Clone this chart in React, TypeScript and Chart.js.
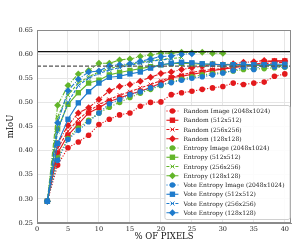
import React, { useEffect, useRef } from "react";
import { Chart, registerables } from "chart.js";

Chart.register(...registerables);

// ---------- data ----------
const pixelPct = [1.67, 3.33, 5, 6.67, 8.33, 10, 11.67, 13.33, 15, 16.67, 18.33, 20, 21.67, 23.33, 25, 26.67, 28.33, 30, 31.67, 33.33, 35, 36.67, 38.33, 40];
const xTicks = [0, 5, 10, 15, 20, 25, 30, 35, 40];
const yTicks = [0.25, 0.3, 0.35, 0.4, 0.45, 0.5, 0.55, 0.6, 0.65];
const fullyRef = 0.605;
const dashedRef = 0.575;

const randomImage = [0.295, 0.370, 0.406, 0.418, 0.432, 0.454, 0.465, 0.474, 0.478, 0.492, 0.500, 0.501, 0.516, 0.520, 0.523, 0.527, 0.530, 0.533, 0.540, 0.537, 0.540, 0.542, 0.554, 0.559];
const random512 = [0.295, 0.395, 0.432, 0.455, 0.478, 0.489, 0.502, 0.509, 0.517, 0.523, 0.531, 0.540, 0.551, 0.554, 0.558, 0.562, 0.566, 0.569, 0.572, 0.575, 0.578, 0.583, 0.586, 0.586];
const random256 = [0.295, 0.405, 0.440, 0.465, 0.482, 0.495, 0.506, 0.515, 0.522, 0.530, 0.537, 0.545, 0.552, 0.557, 0.562, 0.566, 0.568, 0.570, 0.574, 0.577, 0.579, 0.580, 0.582, 0.583];
const random128 = [0.295, 0.415, 0.452, 0.478, 0.489, 0.506, 0.524, 0.533, 0.537, 0.544, 0.552, 0.560, 0.563, 0.568, 0.572, 0.575, 0.579, 0.578, 0.580, 0.583, 0.584, 0.587, 0.585, 0.586];
const entropyImage = [0.295, 0.385, 0.425, 0.447, 0.463, 0.478, 0.490, 0.500, 0.510, 0.519, 0.527, 0.535, 0.542, 0.548, 0.553, 0.557, 0.560, 0.562, 0.565, 0.568, 0.569, 0.570, 0.572, 0.573];
const entropy512 = [0.295, 0.445, 0.496, 0.520, 0.540, 0.546, 0.557, 0.562, 0.566, 0.570, 0.574, 0.578, 0.580, 0.581, 0.580, 0.579, 0.579, 0.578, 0.578, 0.577, 0.577, 0.576, 0.577, 0.576];
const entropy256 = [0.295, 0.470, 0.515, 0.540, 0.553, 0.563, 0.570, 0.575, 0.579, 0.583, 0.586, 0.589, 0.591, 0.593];
const entropy128 = [0.295, 0.494, 0.535, 0.559, 0.566, 0.581, 0.581, 0.588, 0.590, 0.595, 0.598, 0.602, 0.602, 0.604, 0.603, 0.604, 0.602, 0.602];
const voteImage = [0.295, 0.380, 0.423, 0.442, 0.460, 0.478, 0.497, 0.506, 0.516, 0.522, 0.530, 0.536, 0.541, 0.546, 0.550, 0.553, 0.557, 0.561, 0.566, 0.573, 0.568, 0.578, 0.574, 0.574];
const vote512 = [0.295, 0.415, 0.465, 0.499, 0.522, 0.540, 0.552, 0.554, 0.559, 0.563, 0.571, 0.578, 0.581, 0.583, 0.582, 0.580, 0.579, 0.578, 0.578, 0.579, 0.578, 0.578, 0.579, 0.579];
const vote256 = [0.295, 0.440, 0.500, 0.535, 0.550, 0.560, 0.567, 0.572, 0.577, 0.581, 0.585, 0.588, 0.590];
const vote128 = [0.295, 0.458, 0.524, 0.548, 0.563, 0.565, 0.576, 0.578, 0.580, 0.585, 0.590, 0.595, 0.596, 0.600, 0.601];

const seriesLabels = [
  "Random Image (2048x1024)", "Random (512x512)", "Random (256x256)", "Random (128x128)",
  "Entropy Image (2048x1024)", "Entropy (512x512)", "Entropy (256x256)", "Entropy (128x128)",
  "Vote Entropy Image (2048x1024)", "Vote Entropy (512x512)", "Vote Entropy (256x256)", "Vote Entropy (128x128)",
];
const seriesValues = [randomImage, random512, random256, random128, entropyImage, entropy512, entropy256, entropy128, voteImage, vote512, vote256, vote128];

// ---------- styles ----------
const RED = "#e3191c";
const GREEN = "#63b52a";
const BLUE = "#1e7bcc";
const groupColors = [RED, GREEN, BLUE];
const variantMarkers = ["circle", "rect", "crossRot", "rectRot"];
const variantRadius = [2.8, 3.8, 2.8, 3.5];
const variantDash = [[1.2, 1.6], [], [3, 1.5], [5, 1.5, 1, 1.5]];
const FONT = "'DejaVu Serif', serif";

function drawMarker(ctx: CanvasRenderingContext2D, type: string, x: number, y: number, r: number, color: string) {
  ctx.save();
  ctx.fillStyle = color;
  ctx.strokeStyle = color;
  ctx.lineWidth = 1;
  ctx.setLineDash([]);
  ctx.beginPath();
  if (type === "circle") {
    ctx.arc(x, y, r, 0, Math.PI * 2);
    ctx.fill();
  } else if (type === "rect") {
    const s = r * Math.SQRT1_2;
    ctx.rect(x - s, y - s, 2 * s, 2 * s);
    ctx.fill();
  } else if (type === "rectRot") {
    ctx.moveTo(x, y - r);
    ctx.lineTo(x + r, y);
    ctx.lineTo(x, y + r);
    ctx.lineTo(x - r, y);
    ctx.closePath();
    ctx.fill();
  } else {
    const s = r * Math.SQRT1_2;
    ctx.moveTo(x - s, y - s);
    ctx.lineTo(x + s, y + s);
    ctx.moveTo(x + s, y - s);
    ctx.lineTo(x - s, y + s);
    ctx.stroke();
  }
  ctx.restore();
}

const framePlugin = {
  id: "frame",
  afterDatasetsDraw(chart: any) {
    const { ctx, chartArea: a } = chart;
    ctx.save();
    ctx.strokeStyle = "#8a8a8a";
    ctx.lineWidth = 1;
    ctx.strokeRect(a.left + 0.5, a.top + 0.5, a.right - a.left - 1, a.bottom - a.top - 1);
    ctx.restore();
  },
};

const legendPlugin = {
  id: "insideLegend",
  afterDraw(chart: any) {
    const { ctx, chartArea: a } = chart;
    ctx.save();
    ctx.font = `6px ${FONT}`;
    let maxW = 0;
    seriesLabels.forEach((l) => (maxW = Math.max(maxW, ctx.measureText(l).width)));
    const rowH = 9.25;
    const w = 19 + maxW + 5;
    const h = rowH * seriesLabels.length + 3;
    const right = a.right - 1.5;
    const bottom = a.bottom - 4;
    const left = right - w;
    const top = bottom - h;
    ctx.fillStyle = "rgba(255,255,255,0.85)";
    ctx.strokeStyle = "#d0d0d0";
    ctx.lineWidth = 1;
    ctx.beginPath();
    (ctx as any).roundRect ? (ctx as any).roundRect(left + 0.5, top + 0.5, w, h, 2) : ctx.rect(left + 0.5, top + 0.5, w, h);
    ctx.fill();
    ctx.stroke();
    seriesLabels.forEach((label, i) => {
      const g = Math.floor(i / 4);
      const v = i % 4;
      const color = groupColors[g];
      const cy = top + 6 + rowH * i;
      ctx.save();
      ctx.strokeStyle = color;
      ctx.lineWidth = 1.1;
      ctx.setLineDash(variantDash[v]);
      ctx.beginPath();
      ctx.moveTo(left + 2, cy);
      ctx.lineTo(left + 14, cy);
      ctx.stroke();
      ctx.restore();
      drawMarker(ctx, variantMarkers[v], left + 8, cy, variantRadius[v], color);
      ctx.fillStyle = "#222";
      ctx.textBaseline = "middle";
      ctx.textAlign = "left";
      ctx.fillText(label, left + 19, cy + 0.5);
    });
    ctx.restore();
  },
};

export default function App() {
  const canvasRef = useRef<HTMLCanvasElement | null>(null);

  useEffect(() => {
    document.body.style.margin = "0";
    const canvas = canvasRef.current;
    if (!canvas) return;

    const datasets: any[] = seriesValues.map((vals, i) => {
      const g = Math.floor(i / 4);
      const v = i % 4;
      const color = groupColors[g];
      return {
        label: seriesLabels[i],
        data: vals.map((y, k) => ({ x: pixelPct[k], y })),
        borderColor: color,
        backgroundColor: color,
        borderWidth: 1.1,
        borderDash: variantDash[v],
        pointStyle: variantMarkers[v],
        pointRadius: variantRadius[v],
        pointBorderWidth: v === 2 ? 1 : 0,
        pointBorderColor: color,
        pointBackgroundColor: color,
        tension: 0,
        order: -i,
      };
    });
    datasets.push({
      label: "ref-solid",
      data: [{ x: 0, y: fullyRef }, { x: 41, y: fullyRef }],
      borderColor: "#111",
      borderWidth: 1.3,
      pointRadius: 0,
      order: -20,
    });
    datasets.push({
      label: "ref-dashed",
      data: [{ x: 0, y: dashedRef }, { x: 41, y: dashedRef }],
      borderColor: "#555",
      borderWidth: 1.3,
      borderDash: [4, 2],
      pointRadius: 0,
      order: -19,
    });

    const chart = new Chart(canvas, {
      type: "line",
      data: { datasets },
      options: {
        animation: false,
        responsive: false,
        maintainAspectRatio: false,
        devicePixelRatio: 1,
        layout: { padding: { left: 6, right: 4, top: 30, bottom: 5 } },
        plugins: { legend: { display: false }, tooltip: { enabled: false } },
        font: { family: FONT },
        scales: {
          x: {
            type: "linear",
            min: 0,
            max: 41,
            afterBuildTicks: (s: any) => {
              s.ticks = xTicks.map((value) => ({ value }));
            },
            afterFit: (s: any) => {
              s.height = 19;
            },
            ticks: { font: { family: FONT, size: 6.5 }, color: "#222", padding: 2, maxRotation: 0, autoSkip: false },
            grid: { color: "#e6e6e6", lineWidth: 1, drawTicks: false },
            border: { color: "#8a8a8a", width: 1 },
            title: { display: true, text: "% OF PIXELS", font: { family: FONT, size: 8.5 }, color: "#111", padding: 0 },
          },
          y: {
            type: "linear",
            min: 0.25,
            max: 0.65,
            afterBuildTicks: (s: any) => {
              s.ticks = yTicks.map((value) => ({ value }));
            },
            afterFit: (s: any) => {
              s.width = 31;
            },
            ticks: {
              font: { family: FONT, size: 6.5 },
              color: "#222",
              padding: 4,
              autoSkip: false,
              callback: (v: any) => Number(v).toFixed(2),
            },
            grid: { color: "#e6e6e6", lineWidth: 1, drawTicks: false },
            border: { color: "#8a8a8a", width: 1 },
            title: { display: true, text: "mIoU", font: { family: FONT, size: 8.5 }, color: "#111", padding: 0 },
          },
        },
      } as any,
      plugins: [framePlugin, legendPlugin],
    });

    return () => chart.destroy();
  }, []);

  return (
    <div style={{ width: 296, height: 247, position: "relative" }}>
      <canvas ref={canvasRef} width={296} height={247} style={{ width: 296, height: 247, display: "block" }} />
    </div>
  );
}
